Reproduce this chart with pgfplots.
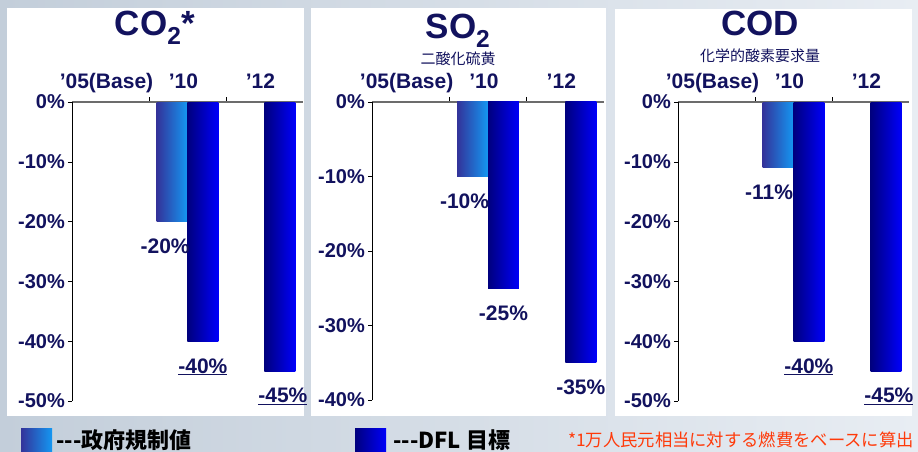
\documentclass[border=0pt]{standalone}
\usepackage{pgfplots}
\pgfplotsset{compat=1.18}
\usepackage{fontspec}
\setmainfont{Liberation Sans}
\newfontfamily\jp{Noto Sans CJK JP}
\definecolor{navy}{HTML}{12125E}
\definecolor{govL}{HTML}{33339A}
\definecolor{govR}{HTML}{1497F2}
\definecolor{dflL}{HTML}{00007E}
\definecolor{dflR}{HTML}{0000FA}
\definecolor{bgL}{HTML}{C3CEDA}
\definecolor{bgR}{HTML}{E8EDF3}
\definecolor{notered}{HTML}{FF3A0A}

\pgfplotsset{
  panel/.style={
    scale only axis, anchor=north west,
    width=231pt,
    xmin=-0.5, xmax=2.5, ymax=0,
    axis x line*=top, axis y line*=left,
    x axis line style={-, draw=gray!85!black, line width=1.2pt},
    y axis line style={-, draw=black, line width=0.8pt},
    xtick={0,1,2}, xticklabels={’05(Base),’10,’12},
    minor xtick={0.5,1.5},
    major x tick style={draw=none},
    minor x tick style={draw=black, line width=0.6pt},
    minor tick length=5pt,
    y tick style={draw=black, line width=0.6pt},
    major tick length=4pt,
    tick align=outside,
    xticklabel style={font=\fontsize{21}{21}\selectfont\bfseries, text=navy,
      anchor=base, inner sep=0pt, yshift=9pt, xshift=-4pt},
    yticklabel style={font=\fontsize{20}{20}\selectfont\bfseries, text=navy,
      anchor=east, inner sep=0pt, xshift=-3pt},
    ybar, bar width=0.4,
    point meta=explicit symbolic,
    nodes near coords,
    every node near coord/.append style={font=\fontsize{21}{21}\selectfont\bfseries,
      text=navy, anchor=north, inner sep=0pt, yshift=-17pt},
    clip=false,
  },
  gov/.style={draw=none, left color=govL, right color=govR, bar shift=-0.2},
  dfl/.style={draw=none, left color=dflL, right color=dflR, bar shift=0.2},
}

\begin{document}
\begin{tikzpicture}
\useasboundingbox (0,0) rectangle (918pt,-452pt);
\shade[left color=bgL, right color=bgR] (0,0) rectangle (918pt,-452pt);
\fill[white] (7pt,-8pt) rectangle (304pt,-416pt);
\fill[white] (311pt,-8pt) rectangle (606pt,-416pt);
\fill[white] (615pt,-9pt) rectangle (912pt,-416pt);

% CO2
\begin{axis}[panel, at={(72pt,-102pt)}, height=299pt, ymin=-50,
  ytick={0,-10,-20,-30,-40,-50},
  yticklabels={0\%,-10\%,-20\%,-30\%,-40\%,-50\%}]
\addplot[gov, every node near coord/.append style={xshift=-7pt}]
  coordinates {(1,-20) [-20\%]};
\addplot[dfl] coordinates {(1,-40) [\underline{-40\%}]};
\addplot[dfl, every node near coord/.append style={xshift=3pt}]
  coordinates {(2,-45) [\underline{-45\%}]};
\end{axis}

% SO2
\begin{axis}[panel, at={(372pt,-102pt)}, width=232pt, height=298pt, ymin=-40,
  ytick={0,-10,-20,-30,-40},
  yticklabels={0\%,-10\%,-20\%,-30\%,-40\%}]
\addplot[gov, every node near coord/.append style={xshift=-8pt}]
  coordinates {(1,-10) [-10\%]};
\addplot[dfl] coordinates {(1,-25) [-25\%]};
\addplot[dfl] coordinates {(2,-35) [-35\%]};
\end{axis}

% COD
\begin{axis}[panel, at={(678pt,-102pt)}, height=299pt, ymin=-50,
  ytick={0,-10,-20,-30,-40,-50},
  yticklabels={0\%,-10\%,-20\%,-30\%,-40\%,-50\%}]
\addplot[gov, every node near coord/.append style={xshift=-9pt}]
  coordinates {(1,-11) [-11\%]};
\addplot[dfl] coordinates {(1,-40) [\underline{-40\%}]};
\addplot[dfl, every node near coord/.append style={xshift=3pt}]
  coordinates {(2,-45) [\underline{-45\%}]};
\end{axis}

% titles
\node[anchor=base, text=navy, font=\fontsize{35}{35}\selectfont\bfseries]
  at (155pt,-36pt) {CO\textsubscript{2}*};
\node[anchor=base, text=navy, font=\fontsize{35}{35}\selectfont\bfseries]
  at (458pt,-39pt) {SO\textsubscript{2}};
\node[text=navy, font=\jp\fontsize{15}{15}\selectfont] at (458pt,-59pt) {二酸化硫黄};
\node[anchor=base, text=navy, font=\fontsize{35}{35}\selectfont\bfseries]
  at (760pt,-36pt) {COD};
\node[text=navy, font=\jp\fontsize{15}{15}\selectfont] at (760pt,-55.5pt) {化学的酸素要求量};

% legend
\shade[left color=govL, right color=govR] (21pt,-428pt) rectangle (52pt,-454pt);
\node[anchor=west, inner sep=0pt, font=\jp\bfseries\fontsize{22}{22}\selectfont]
  at (56pt,-440pt) {---政府規制値};
\shade[left color=dflL, right color=dflR] (355pt,-428pt) rectangle (386pt,-454pt);
\node[anchor=west, inner sep=0pt, font=\jp\bfseries\fontsize{22}{22}\selectfont]
  at (393pt,-440pt) {---DFL 目標};
\node[anchor=west, inner sep=0pt, text=notered, font=\jp\fontsize{17.3}{17.3}\selectfont]
  at (568pt,-440pt) {*1万人民元相当に対する燃費をベースに算出};
\end{tikzpicture}
\end{document}
